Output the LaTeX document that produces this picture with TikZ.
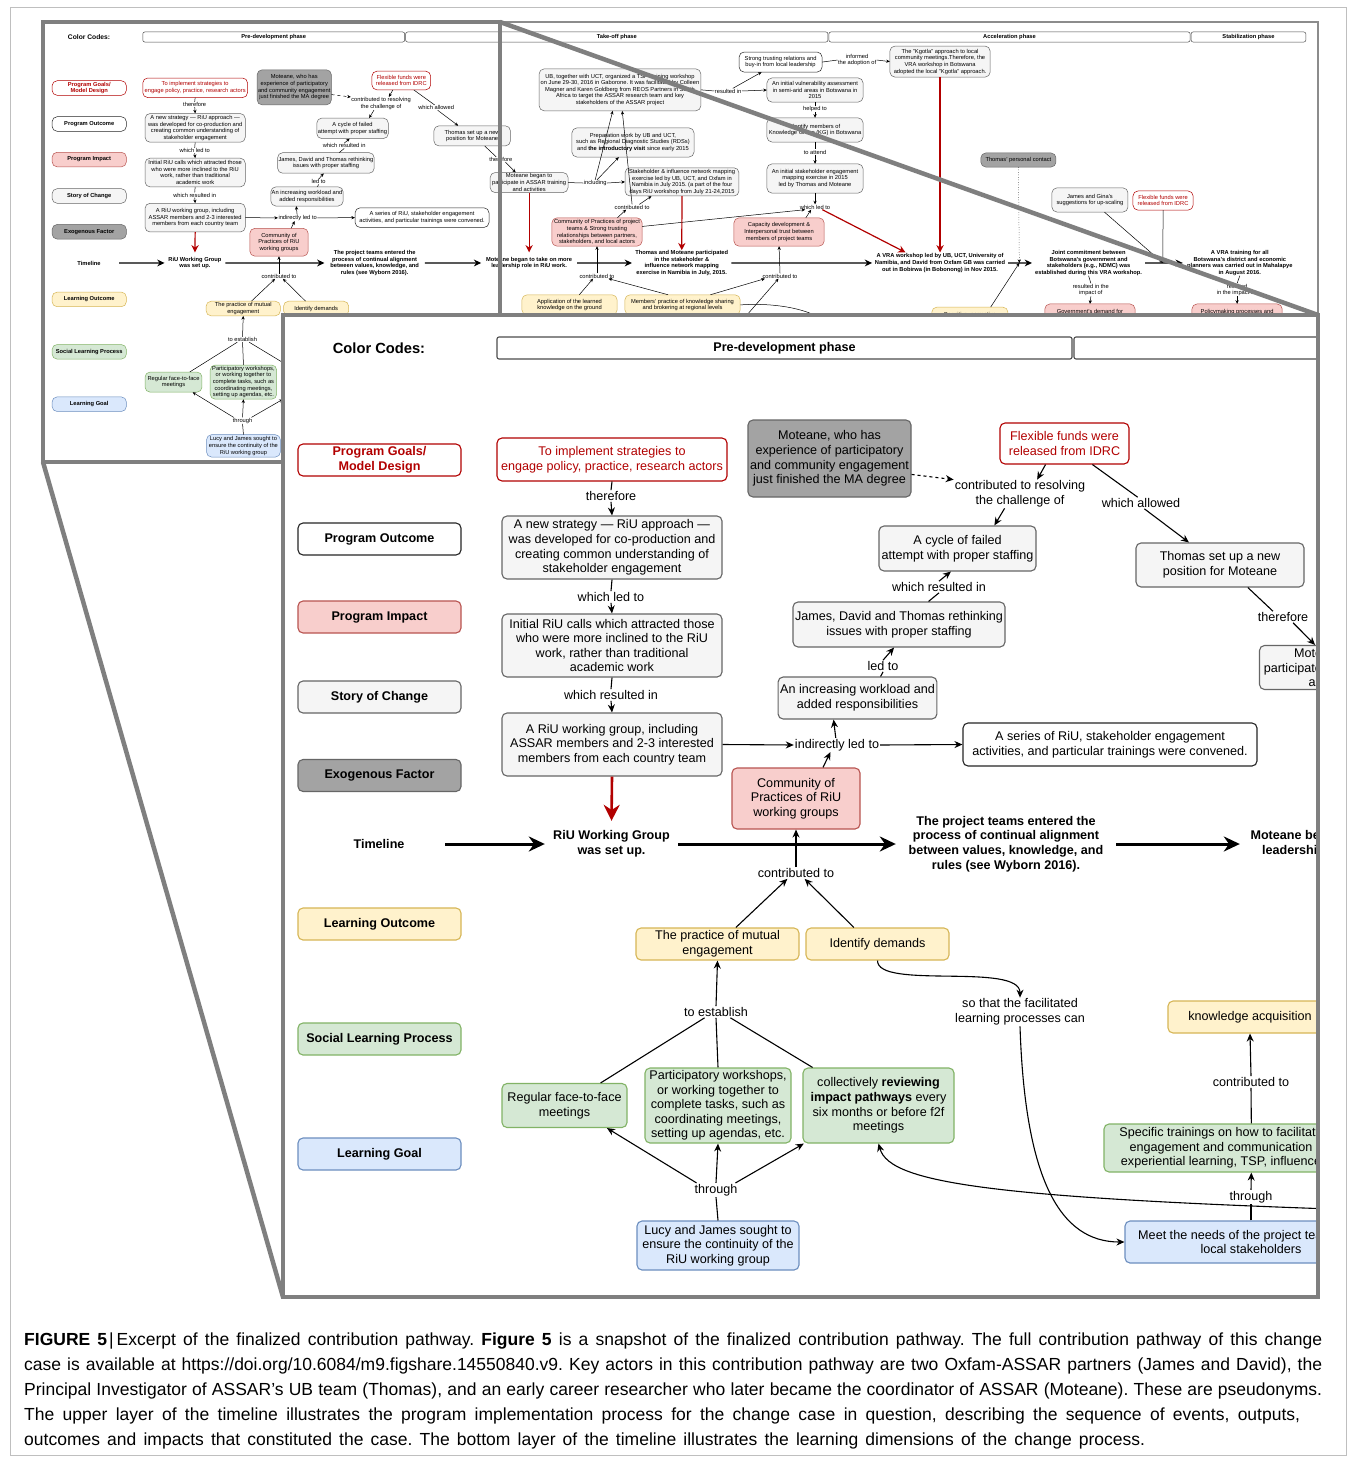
\documentclass[tikz,border=0pt]{standalone}
\usepackage{fontspec}
\setmainfont{Liberation Sans}
\usetikzlibrary{arrows.meta}
\frenchspacing
\definecolor{redc}{HTML}{B20000}
\definecolor{gfill}{HTML}{F5F5F5}
\definecolor{gline}{HTML}{666666}
\definecolor{pfill}{HTML}{F8CECC}
\definecolor{pline}{HTML}{B85450}
\definecolor{yfill}{HTML}{FFF2CC}
\definecolor{yline}{HTML}{D6B656}
\definecolor{grfill}{HTML}{D5E8D4}
\definecolor{grline}{HTML}{82B366}
\definecolor{bfill}{HTML}{DAE8FC}
\definecolor{bline}{HTML}{6C8EBF}
\definecolor{exfill}{HTML}{A3A3A3}
\definecolor{framec}{HTML}{7F7F7F}
\newcommand\fs{\fontsize{12.6}{14.6}\selectfont}
\newcommand\fsb{\fontsize{12.6}{14.6}\selectfont\bfseries}
\def\LW{1.1pt}\def\TLW{3pt}\def\RLW{2.6pt}\def\AL{8pt}\def\AW{7pt}\def\BL{16pt}\def\BW{15pt}\def\RL{16pt}\def\RW{16pt}
\tikzset{
  bx/.style={draw, rounded corners=5pt, align=center, font=\fs, inner sep=2pt, line width=\LW},
  gbox/.style={bx, draw=gline, fill=gfill},
  rbox/.style={bx, draw=redc, fill=white, text=redc},
  pbox/.style={bx, draw=pline, fill=pfill},
  ybox/.style={bx, draw=yline, fill=yfill},
  grbox/.style={bx, draw=grline, fill=grfill},
  bbox/.style={bx, draw=bline, fill=bfill},
  xbox/.style={bx, draw=gline, fill=exfill},
  wbox/.style={bx, draw=black!85, fill=white},
  leg/.style={minimum width=163, minimum height=32, font=\fsb, inner sep=0pt},
  lbl/.style={align=center, font=\fs, inner sep=1pt},
  tlt/.style={align=center, font=\fsb, inner sep=0pt, minimum height=46},
  ln/.style={line width=\LW, draw=black},
  arr/.style={ln, -{Stealth[length=\AL, width=\AW]}},
  tarr/.style={line width=\TLW, draw=black, -{Stealth[length=\BL, width=\BW]}},
  rarr/.style={line width=\RLW, draw=redc, -{Stealth[length=\RL, width=\RW]}},
  phase/.style={draw=black!70, fill=white, rounded corners=2pt, line width=\LW, font=\fsb, minimum height=22, inner sep=0pt},
  frame/.style={draw=framec, line width=4.5pt}
}
\newcommand\fulldiagram{%
% legend column
\node[font=\fontsize{14.7}{17}\selectfont\bfseries] (cc) at (379,348) {Color Codes:};
\node[rbox,leg] (lgoal) at (379.5,460) {Program Goals/\\Model Design};
\node[wbox,leg] (lout) at (379.5,539) {Program Outcome};
\node[pbox,leg] (limp) at (379.5,617) {Program Impact};
\node[gbox,leg] (lstory) at (379.5,697) {Story of Change};
\node[xbox,leg] (lexo) at (379.5,775.5) {Exogenous Factor};
\node[tlt,minimum width=132] (ltime) at (379,844) {Timeline};
\node[ybox,leg] (llo) at (379.5,924) {Learning Outcome};
\node[grbox,leg] (lslp) at (379.5,1039) {Social Learning Process};
\node[bbox,leg] (llg) at (379.5,1154) {Learning Goal};
% phases
\node[phase, minimum width=575] (ph1) at (784.5,348) {Pre-development phase};
\node[phase, minimum width=927] (ph2) at (1537.5,348) {Take-off phase};
\node[phase, minimum width=793] (ph3) at (2399.5,348) {Acceleration phase};
\node[phase, minimum width=252] (ph4) at (2924,348) {Stabilization phase};
% upper layer, pre-development
\node[rbox, minimum width=230, minimum height=43] (imp) at (612,459.5) {To implement strategies to\\engage policy, practice, research actors};
\node[lbl] (th1) at (611,496) {therefore};
\node[gbox, minimum width=220, minimum height=63] (strat) at (612,547.5) {A new strategy — RiU approach —\\was developed for co-production and\\creating common understanding of\\stakeholder engagement};
\node[lbl] (wl1) at (611,597) {which led to};
\node[gbox, minimum width=220, minimum height=63] (init) at (612,645.5) {Initial RiU calls which attracted those\\who were more inclined to the RiU\\work, rather than traditional\\academic work};
\node[lbl] (wri1) at (611,695) {which resulted in};
\node[gbox, minimum width=220, minimum height=63] (wg) at (612,744.5) {A RiU working group, including\\ASSAR members and 2-3 interested\\members from each country team};
\node[pbox, minimum width=128, minimum height=61] (cop) at (796,798.5) {Community of\\Practices of RiU\\working groups};
\node[lbl] (idl) at (837,745) {indirectly led to};
\node[wbox, minimum width=294, minimum height=43] (series) at (1110,744.5) {A series of RiU, stakeholder engagement\\activities, and particular trainings were convened.};
\node[gbox, minimum width=157, minimum height=42] (work) at (857.5,698) {An increasing workload and\\added responsibilities};
\node[lbl] (ledto) at (883,666) {led to};
\node[gbox, minimum width=206, minimum height=45] (james) at (899,624.5) {James, David and Thomas rethinking\\issues with proper staffing};
\node[lbl] (wri2) at (939,587) {which resulted in};
\node[gbox, minimum width=157, minimum height=45] (cycle) at (957.5,548.5) {A cycle of failed\\attempt with proper staffing};
\node[lbl] (ctr) at (1020,494) {contributed to resolving\\the challenge of};
\node[xbox, minimum width=163, minimum height=77] (mot) at (829.5,458.5) {Moteane, who has\\experience of participatory\\and community engagement\\just finished the MA degree};
\node[rbox, minimum width=129, minimum height=41] (flex) at (1064.5,443.5) {Flexible funds were\\released from IDRC};
\node[lbl] (wal) at (1141,503) {which allowed};
\node[gbox, minimum width=168, minimum height=44] (thomas) at (1220,565) {Thomas set up a new\\position for Moteane};
\node[lbl] (th2) at (1283,617) {therefore};
\node[gbox, minimum width=171, minimum height=44] (mot2) at (1345,667.5) {Moteane began to\\participate in ASSAR training\\and activities};
% upper layer, take-off and later
\node[gbox, minimum width=355, minimum height=92] (ub) at (1544.5,464) {UB, together with UCT, organized a TSP training workshop\\on June 29-30, 2016 in Gaborone. It was facilitated by Colleen\\Magner and Karen Goldberg from REOS Partners in South\\Africa to target the ASSAR research team and key\\stakeholders of the ASSAR project};
\node[lbl] (ri1) at (1782,466.5) {resulted in};
\node[wbox, minimum width=182, minimum height=44] (strong) at (1897,403) {Strong trusting relations and\\buy-in from local leadership};
\node[lbl] (inf) at (2065,398.5) {informed\\the adoption of};
\node[gbox, minimum width=220, minimum height=68] (kgotla) at (2247,402) {The "Kgotla" approach to local\\community meetings.Therefore, the\\VRA workshop in Botswana\\adopted  the local "Kgotla" approach.};
\node[gbox, minimum width=211, minimum height=53] (vuln) at (1972.6,464.4) {An initial vulnerability assessment\\in semi-arid areas in Botswana in\\2015};
\node[lbl] (hlp) at (1972.6,506) {helped to};
\node[gbox, minimum width=211, minimum height=53] (kg) at (1972.6,552) {Identify members of\\Knowledge Group (KG) in Botswana};
\node[lbl] (tatt) at (1972.6,600.4) {to attend};
\node[gbox, minimum width=211, minimum height=64] (se) at (1972.6,658.6) {An initial stakeholder engagement\\mapping exercise in 2015\\led by Thomas and Moteane};
\node[lbl] (wl2) at (1972.6,721.2) {which led to};
\node[gbox, minimum width=268, minimum height=64] (prep) at (1573,579.5) {Preparation work by UB and UCT,\\such as Regional Diagnostic Studies (RDSs)\\and \textbf{the introductory visit} since early 2015};
\node[gbox, minimum width=250, minimum height=62] (stk) at (1680.6,666) {Stakeholder \& influence network mapping\\exercise led by UB, UCT, and Oxfam in\\Namibia in July 2015. (a part of the four\\days RiU workshop from July 21-24,2015};
\node[lbl] (incl) at (1490,668.5) {including};
\node[lbl] (ct3) at (1571,721.2) {contributed to};
\node[pbox, minimum width=198, minimum height=62] (cop2) at (1494,776) {Community of Practices of project\\teams \& Strong trusting\\relationships between partners,\\stakeholders, and local actors};
\node[pbox, minimum width=198, minimum height=62] (cap) at (1893.6,776) {Capacity development \&\\Interpersonal trust between\\members of project teams};
\node[xbox, minimum width=165, minimum height=31] (tpc) at (2419,618) {Thomas' personal contact};
\coordinate (j1) at (2421,844);
\node[gbox, minimum width=167, minimum height=53] (jg) at (2576,705.7) {James and Gina's\\suggestions for up-scaling};
\node[rbox, minimum width=132, minimum height=42] (flex2) at (2736.5,707) {Flexible funds were\\released from IDRC};
\coordinate (j2) at (2736,844);
% timeline
\node[tlt, minimum width=133] (tl1) at (611.5,844) {RiU Working Group\\was set up.};
\node[tlt, minimum width=220] (tl2) at (1006,844) {The project teams entered the\\process  of continual alignment\\between values, knowledge, and\\rules (see Wyborn 2016).};
\node[tlt, minimum width=210] (tl3) at (1345,844) {Moteane began to take on more\\leadership role in RiU work.};
\node[tlt, minimum width=218] (tl4) at (1680,844) {Thomas and Moteane participated\\in the stakeholder \&\\influence network mapping\\exercise in Namibia in July, 2015.};
\node[tlt, minimum width=298] (tl5) at (2247,844) {A VRA workshop led by UB, UCT, University of\\Namibia, and David from Oxfam GB was carried\\out in Bobirwa (in Bobonong) in Nov 2015.};
\node[tlt, minimum width=248] (tl6) at (2573,844) {Joint commitment between\\Botswana's government and\\stakeholders (e.g., NDMC) was\\established during this VRA workshop.};
\node[tlt, minimum width=250] (tl7) at (2905,844) {A VRA training for all\\Botswana's  district and economic\\planners was carried out in Mahalapye\\in August 2016.};
% lower layer
\node[lbl] (ct1) at (796,873) {contributed to};
\node[ybox, minimum width=163, minimum height=32] (pme) at (717.5,944) {The practice of mutual\\engagement};
\node[ybox, minimum width=143, minimum height=32] (idd) at (877.5,944) {Identify demands};
\node[lbl] (est) at (716,1012) {to establish};
\node[grbox, minimum width=125, minimum height=44] (regular) at (564.5,1105.5) {Regular face-to-face\\meetings};
\node[grbox, minimum width=146, minimum height=75] (particip) at (718,1105.5) {Participatory workshops,\\or working together to\\complete tasks, such as\\coordinating meetings,\\setting up agendas, etc.};
\node[grbox, minimum width=151, minimum height=75] (collect) at (878.5,1105.5) {collectively \textbf{reviewing}\\\textbf{impact pathways} every\\six months or before f2f\\meetings};
\node[lbl] (thr1) at (716,1190) {through};
\node[bbox, minimum width=162, minimum height=49] (lucy) at (718,1245.5) {Lucy and James sought to\\ensure the continuity of the\\RiU working group};
\node[lbl] (sotf) at (1020,1012) {so that the facilitated\\learning processes can};
\node[ybox, minimum width=164, minimum height=32] (know) at (1250,1017) {knowledge acquisition};
\node[lbl] (ct2) at (1251,1082) {contributed to};
\node[grbox, minimum width=234, minimum height=48] (spec) at (1221,1148) {Specific trainings on how to facilitate\\engagement and communication\\experiential learning, TSP, influence};
\node[lbl] (thr2) at (1251,1197) {through};
\node[bbox, minimum width=252, minimum height=42] (meet) at (1251,1242) {Meet the needs of the project teams and\\local stakeholders};
\coordinate (far) at (1460,1213);
\node[lbl] (ct4) at (1494,872.6) {contributed to};
\node[lbl] (ct5) at (1895.7,872.6) {contributed to};
\node[ybox, minimum width=209, minimum height=44] (app) at (1433.7,936) {Application of the learned\\knowledge on the ground};
\node[ybox, minimum width=253, minimum height=44] (mem) at (1681.8,936) {Members' practice of knowledge sharing\\and brokering at regional levels};
\node[ybox, minimum width=167, minimum height=48] (cog) at (2312.5,965) {Cognitive, normative\\\mbox{}};
\node[lbl] (ri2) at (2578,903) {resulted in the\\impact of};
\node[pbox, minimum width=198, minimum height=48] (gov) at (2576,958) {Government's demand for\\\mbox{}};
\node[lbl] (ri3) at (2899,903) {resulted\\in the impact on};
\node[pbox, minimum width=198, minimum height=48] (pol) at (2899,958) {Policymaking processes and\\\mbox{}};
\coordinate (h1) at (1825,956);
\coordinate (h2) at (2010,985);
% connectors, pre-development
\draw[ln] (imp.south) -- (th1.north);
\draw[arr] (th1.south) -- (strat.north);
\draw[ln] (strat.south) -- (wl1.north);
\draw[arr] (wl1.south) -- (init.north);
\draw[ln] (init.south) -- (wri1.north);
\draw[arr] (wri1.south) -- (wg.north);
\draw[rarr] (wg.south) -- (tl1.north);
\draw[arr] (wg.east) -- (idl.west);
\draw[arr] (idl.east) -- (series.west);
\draw[arr] (idl.100) -- (work.-138);
\draw[arr] (cop.49) -- (idl.-133);
\draw[ln] (work.43) -- (ledto.south);
\draw[arr] (ledto.north) -- (james.-102);
\draw[ln] (james.38) -- (wri2.south);
\draw[arr] (wri2.north) -- (cycle.-106);
\draw[arr, dashed] (mot.-11) -- (ctr.north west);
\draw[arr] (flex.-132) -- (ctr.40);
\draw[arr] (ctr.-137) -- (cycle.32);
\draw[ln] (flex.-37) -- (wal.120);
\draw[arr] (wal.-60) -- (thomas.144);
\draw[ln] (thomas.-39) -- (th2.150);
\draw[arr] (th2.-30) -- (mot2.143);
% timeline
\draw[tarr] (ltime) -- (tl1);
\draw[tarr] (tl1) -- (tl2);
\draw[tarr] (tl2) -- (tl3);
\draw[tarr] (tl3) -- (tl4);
\draw[tarr] (tl4) -- (tl5);
\draw[tarr] (tl5) -- (tl6);
\draw[tarr] (tl6) -- (tl7);
% lower layer connectors
\draw[arr] (ct1.north) -- (cop.south);
\draw[arr] (pme.42) -- (ct1.-146);
\draw[arr] (idd.145) -- (ct1.-34);
\draw[arr] (est.north) -- (pme.south);
\draw[ln] (regular.32) -- (est.-153);
\draw[ln] (particip.north) -- (est.south);
\draw[ln] (collect.150) -- (est.-22);
\draw[arr] (thr1.160) -- (regular.-28);
\draw[arr] (thr1.north) -- (particip.south);
\draw[arr] (thr1.20) -- (collect.-153);
\draw[ln] (lucy.north) -- (thr1.south);
\draw[arr] (idd.south) .. controls (877,990) and (1020,962) .. (sotf.north);
\draw[arr] (sotf.south) .. controls (1025,1180) and (1060,1242) .. (meet.west);
\draw[arr] (far) .. controls (1000,1200) and (890,1185) .. (collect.south);
\draw[ln] (meet.north) -- (thr2.south);
\draw[arr] (thr2.north) -- (spec.-39);
\draw[ln] (spec.39) -- (ct2.south);
\draw[arr] (ct2.north) -- (know.south);
% connectors, later phases
\draw[ln] (mot2.east) -- (incl.west);
\draw[arr] (incl.east) -- (stk.west);
\draw[arr] (incl.north) -- (ub.-109);
\draw[arr] (incl.60) -- (prep.-134);
\draw[arr] (ct3.north) -- (ub.-84);
\draw[arr] (ct3.20) -- (stk.-155);
\draw[arr] (cop2.35) -- (ct3.-156);
\draw[arr] (cop2.7) -- (wl2.-165);
\draw[arr] (cap.28) -- (wl2.-146);
\draw[arr] (se.south) -- (wl2.north);
\draw[rarr] (wl2.-20) -- (tl5.163);
\draw[ln] (kg.south) -- (tatt.north);
\draw[arr] (tatt.south) -- (se.north);
\draw[ln] (vuln.south) -- (hlp.north);
\draw[arr] (hlp.south) -- (kg.north);
\draw[ln] (ub.east) -- (ri1.west);
\draw[arr] (ri1.east) -- (vuln.west);
\draw[arr] (ri1.30) -- (strong.-152);
\draw[ln] (strong.east) -- (inf.west);
\draw[arr] (inf.east) -- (kgotla.west);
\draw[rarr] (kgotla.south) -- (tl5.north);
\draw[rarr] (mot2.south) -- (tl3.north);
\draw[rarr] (stk.south) -- (tl4.north);
\draw[arr, dotted] (tpc.south) -- (j1);
\draw[arr] (cog.28) -- (j1);
\draw[ln] (tl6.south) -- (ri2.north);
\draw[arr] (ri2.south) -- (gov.north);
\draw[arr] (jg.-40) -- (j2);
\draw[arr] (flex2.south) -- (j2);
\draw[ln] (tl7.south) -- (ri3.north);
\draw[arr] (ri3.south) -- (pol.north);
\draw[arr] (app.46) -- (ct4.-146);
\draw[arr] (mem.145) -- (ct4.-13);
\draw[arr] (mem.20) -- (ct5.-170);
\draw[arr] (ct4.north) -- (cop2.south);
\draw[arr] (ct5.north) -- (cap.south);
\draw[arr] (h1) -- (ct5.-120);
\draw[ln] (mem.east) .. controls (1900,930) and (1980,950) .. (h2);
}
\begin{document}
\begin{tikzpicture}[x=1pt,y=-1pt]
\useasboundingbox (0,0) rectangle (1356,1463);
\fill[white] (0,0) rectangle (1356,1463);
\draw[black!25, line width=1pt] (10,8) rectangle (1346,1455);
% thumbnail of the whole pathway
\begin{scope}
\clip (43,22) rectangle (1318,462);
\begin{scope}[shift={(-83.66,-121.54)}, scale=0.45558, transform shape]
\def\LW{0.5pt}\def\TLW{1.4pt}\def\RLW{1.2pt}\def\AL{3.6pt}\def\AW{3.2pt}\def\BL{7.3pt}\def\BW{6.8pt}\def\RL{7.3pt}\def\RW{7.3pt}
\fulldiagram
\end{scope}
\end{scope}
\draw[black!45, line width=1.2pt] (43,22) rectangle (1318,462);
% highlighted region and zoom lines (behind the enlarged panel)
\draw[frame] (43,22) rectangle (500,462);
\draw[frame] (500,22) -- (1318,315);
\draw[frame] (43,462) -- (283,1297);
% enlarged panel
\fill[white] (283,315) rectangle (1318,1297);
\begin{scope}
\clip (283,315) rectangle (1318,1297);
\fulldiagram
\end{scope}
\draw[frame] (283,315) rectangle (1318,1297);
% caption
\node[anchor=north west, align=left, inner sep=0pt, font=\fontsize{17.5}{25}\selectfont] (captxt) at (24,1333) {\makebox[1298pt][s]{\textbf{FIGURE 5}\hspace{2pt}|\hspace{3pt}Excerpt of the finalized contribution pathway. \textbf{Figure 5} is a snapshot of the finalized contribution pathway. The full contribution pathway of this change}\\\makebox[1298pt][s]{case is available at https://doi.org/10.6084/m9.figshare.14550840.v9. Key actors in this contribution pathway are two Oxfam-ASSAR partners (James and David), the}\\\makebox[1298pt][s]{Principal Investigator of ASSAR's UB team (Thomas), and an early career researcher who later became the coordinator of ASSAR (Moteane). These are pseudonyms.}\\\makebox[1276pt][s]{The upper layer of the timeline illustrates the program implementation process for the change case in question, describing the sequence of events, outputs,}\\\makebox[1121pt][s]{outcomes and impacts that constituted the case. The bottom layer of the timeline illustrates the learning dimensions of the change process.}};
\end{tikzpicture}
\end{document}
